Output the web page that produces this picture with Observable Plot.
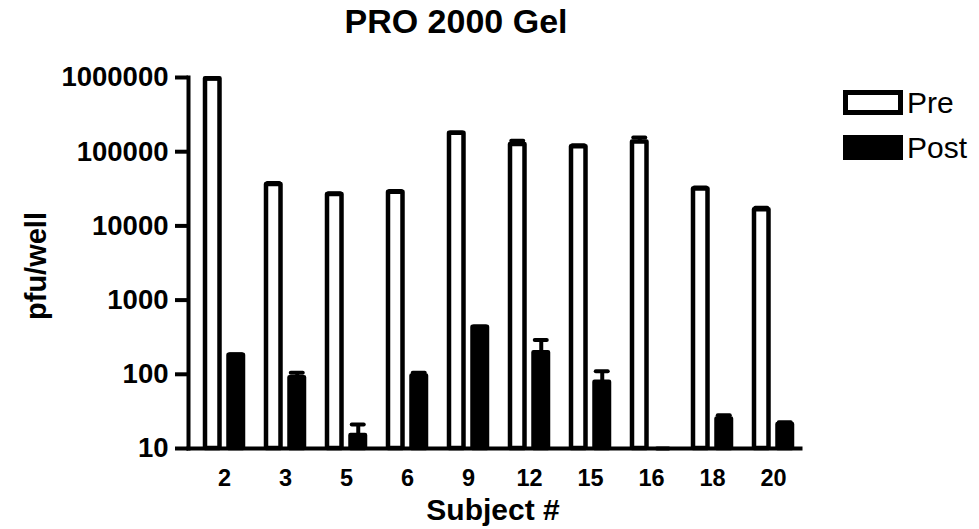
<!DOCTYPE html>
<html>
<head>
<meta charset="utf-8">
<script src="https://cdn.jsdelivr.net/npm/d3@7"></script>
<script src="https://cdn.jsdelivr.net/npm/@observablehq/plot@0.6"></script>
<style>
  html, body { margin: 0; padding: 0; background: #fff; }
  #wrap { position: relative; width: 979px; height: 529px; font-family: "Liberation Sans", Arial, sans-serif; color: #000; }
  #chart { position: absolute; left: 0; top: 0; }
  .lbl { position: absolute; font-weight: bold; white-space: nowrap; line-height: 1; }
  #title { left: 256px; width: 400px; top: 4px; text-align: center; font-size: 34px; }
  #xlabel { left: 293px; width: 400px; top: 495px; text-align: center; font-size: 30px; }
  #ylabel { left: 36px; top: 266px; font-size: 29px; transform: translate(-50%, -50%) rotate(-90deg); }
  #legend { position: absolute; left: 843px; top: 90px; }
  .item { display: flex; align-items: center; height: 25px; margin-bottom: 20px; }
  .sw { box-sizing: border-box; width: 60px; height: 25px; border: 5px solid #000; margin-right: 4px; }
  .item span { font-size: 30px; line-height: 1; }
</style>
</head>
<body>
<div id="wrap">
  <div id="chart"></div>
  <div id="title" class="lbl">PRO 2000 Gel</div>
  <div id="xlabel" class="lbl">Subject #</div>
  <div id="ylabel" class="lbl">pfu/well</div>
  <div id="legend"></div>
</div>
<script>
// ---- data ----
const subjects  = ["2", "3", "5", "6", "9", "12", "15", "16", "18", "20"];
const seriesNames = ["Pre", "Post"];
const seriesFill  = ["#ffffff", "#000000"];
const preMean   = [960000, 36000, 26500, 28500, 177000, 125000, 117000, 135000, 31500, 16500];
const preUpper  = [960000, 38000, 27500, 29500, 181000, 140000, 122000, 155000, 33000, 17500];
const postMean  = [180, 90, 15, 95, 430, 195, 78, 10, 25, 21];
const postUpper = [186, 105, 21, 105, 440, 290, 110, 10, 28, 22.5];
const yTicks    = [10, 100, 1000, 10000, 100000, 1000000];

// ---- build table ----
const rows = [];
subjects.forEach((s, i) => {
  rows.push({subject: s, series: "Pre",  mean: preMean[i],  upper: preUpper[i]});
  rows.push({subject: s, series: "Post", mean: postMean[i], upper: postUpper[i]});
});
const pre  = rows.filter(d => d.series === "Pre");
const post = rows.filter(d => d.series === "Post");

// ---- styling / layout constants ----
const barW = 14.5, gap = 9, bw = 2 * barW + gap;   // group = 38px
const capHalf = 6;
const sw = 4.5;
const base = yTicks[0];

const plot = Plot.plot({
  width: 979,
  height: 529,
  marginLeft: 188,
  marginRight: 179,
  marginTop: 77,
  marginBottom: 81,
  style: {fontFamily: "Liberation Sans, Arial, sans-serif", background: "#fff", color: "#000"},
  x: {type: "band", domain: subjects, range: [202.5, 793.5], paddingInner: 0.3816, paddingOuter: 0, axis: null},
  y: {type: "log", domain: [10, 1000000], axis: null},
  marks: [
    Plot.barY(pre,  {x: "subject", y1: () => base, y2: "mean", fill: seriesFill[0], stroke: "#000", strokeWidth: sw, strokeLinejoin: "round", insetLeft: 0, insetRight: bw - barW}),
    Plot.barY(post, {x: "subject", y1: () => base, y2: "mean", fill: seriesFill[1], stroke: "#000", strokeWidth: sw, strokeLinejoin: "round", insetLeft: bw - barW, insetRight: 0}),
    Plot.ruleX(pre,  {x: "subject", y1: "mean", y2: "upper", dx: -(gap + barW) / 2, stroke: "#000", strokeWidth: 4}),
    Plot.ruleX(post, {x: "subject", y1: "mean", y2: "upper", dx:  (gap + barW) / 2, stroke: "#000", strokeWidth: 4}),
    Plot.tickY(pre,  {x: "subject", y: "upper", insetLeft: barW / 2 - capHalf, insetRight: bw - barW / 2 - capHalf, stroke: "#000", strokeWidth: 4, strokeLinecap: "round"}),
    Plot.tickY(post, {x: "subject", y: "upper", insetLeft: bw - barW / 2 - capHalf, insetRight: barW / 2 - capHalf, stroke: "#000", strokeWidth: 4, strokeLinecap: "round"}),
    Plot.frame({anchor: "left", stroke: "#000", strokeWidth: 4}),
    Plot.frame({anchor: "bottom", stroke: "#000", strokeWidth: 4}),
    Plot.axisY({ticks: yTicks, tickFormat: d => String(d), tickSize: 13, tickPadding: 7, fontSize: 27.5, fontWeight: "bold", stroke: "#000", strokeWidth: 4, label: null}),
    Plot.axisX({tickSize: 0, tickPadding: 21, fontSize: 23.5, fontWeight: "bold", label: null})
  ]
});
document.getElementById("chart").appendChild(plot);

// ---- legend ----
const legend = document.getElementById("legend");
seriesNames.forEach((name, i) => {
  const item = document.createElement("div");
  item.className = "item";
  const swatch = document.createElement("div");
  swatch.className = "sw";
  swatch.style.background = seriesFill[i];
  const label = document.createElement("span");
  label.textContent = name;
  item.appendChild(swatch);
  item.appendChild(label);
  legend.appendChild(item);
});
</script>
</body>
</html>
